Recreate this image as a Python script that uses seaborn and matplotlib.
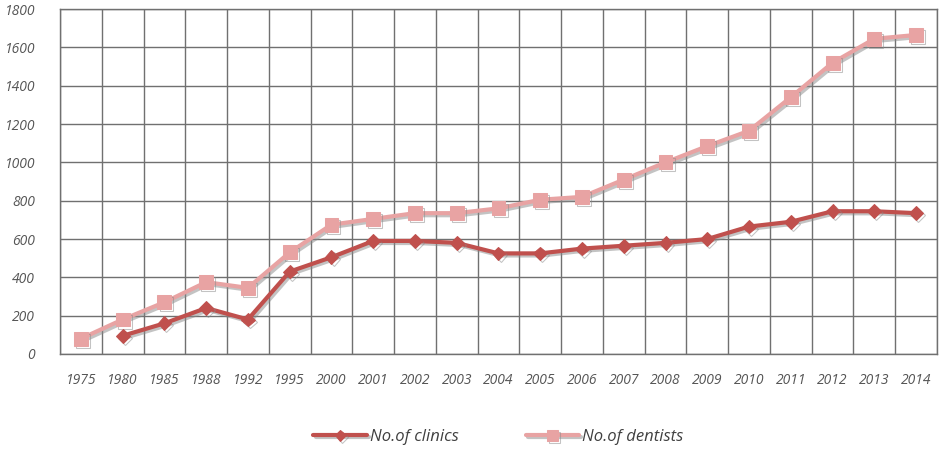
import numpy as np
import pandas as pd
import matplotlib
matplotlib.use("Agg")
import matplotlib.pyplot as plt
import matplotlib.patheffects as pe
import seaborn as sns

years = ["1975", "1980", "1985", "1988", "1992", "1995", "2000", "2001", "2002", "2003",
         "2004", "2005", "2006", "2007", "2008", "2009", "2010", "2011", "2012", "2013", "2014"]
clinics = [np.nan, 95, 160, 240, 180, 430, 505, 590, 590, 580,
           525, 525, 550, 565, 580, 600, 665, 690, 745, 745, 735]
dentists = [80, 180, 270, 375, 345, 530, 675, 705, 735, 735,
            760, 805, 820, 910, 1000, 1085, 1165, 1340, 1520, 1645, 1665]
y_ticks = [0, 200, 400, 600, 800, 1000, 1200, 1400, 1600, 1800]

sns.set_theme(style="white")
plt.rcParams['font.family'] = ['Open Sans', 'DejaVu Sans']

pos = np.arange(len(years))
df = pd.DataFrame({"pos": pos, "No.of clinics": clinics, "No.of dentists": dentists})

fig = plt.figure(figsize=(9.45, 4.55), dpi=100)
ax = fig.add_axes([0.0635, 0.222, 0.928, 0.758])

shadow = [pe.SimpleLineShadow(offset=(1.5, -1.5), shadow_color="#888888", alpha=0.5), pe.Normal()]

sns.lineplot(data=df, x="pos", y="No.of dentists", ax=ax, color="#E8A3A3", lw=3,
             marker="s", markersize=10, markeredgecolor="#E8A3A3", label="No.of dentists",
             path_effects=shadow, zorder=3)
sns.lineplot(data=df, x="pos", y="No.of clinics", ax=ax, color="#C0504D", lw=3,
             marker="D", markersize=7, markeredgecolor="#C0504D", label="No.of clinics",
             path_effects=shadow, zorder=4)

ax.set_xlim(-0.5, len(years) - 0.5)
ax.set_ylim(0, 1800)
ax.set_yticks(y_ticks)
ax.set_yticklabels([str(v) for v in y_ticks], fontsize=10, style="italic", color="#555555")
ax.set_xticks(pos)
ax.set_xticklabels(years, fontsize=10, style="italic", color="#555555")
ax.set_xticks(np.arange(-0.5, len(years), 1.0), minor=True)
ax.tick_params(axis="y", which="both", length=0, pad=18)
ax.tick_params(axis="x", which="both", length=0, pad=14)
ax.grid(False)
ax.grid(True, which="minor", axis="x", color="#707070", lw=1)
ax.grid(True, which="major", axis="y", color="#707070", lw=1)
for s in ax.spines.values():
    s.set_color("#707070")
    s.set_linewidth(1)
ax.set_xlabel("")
ax.set_ylabel("")

handles, labels = ax.get_legend_handles_labels()
order = [labels.index("No.of clinics"), labels.index("No.of dentists")]
leg = ax.legend([handles[i] for i in order], [labels[i] for i in order],
                loc="center", bbox_to_anchor=(0.5, -0.2406), ncol=2, frameon=False,
                prop={"style": "italic", "size": 12}, handlelength=3.2, handletextpad=0.2,
                columnspacing=4, markerscale=0.8)
for t in leg.get_texts():
    t.set_color("#404040")

fig.savefig("out.png", dpi=100)
